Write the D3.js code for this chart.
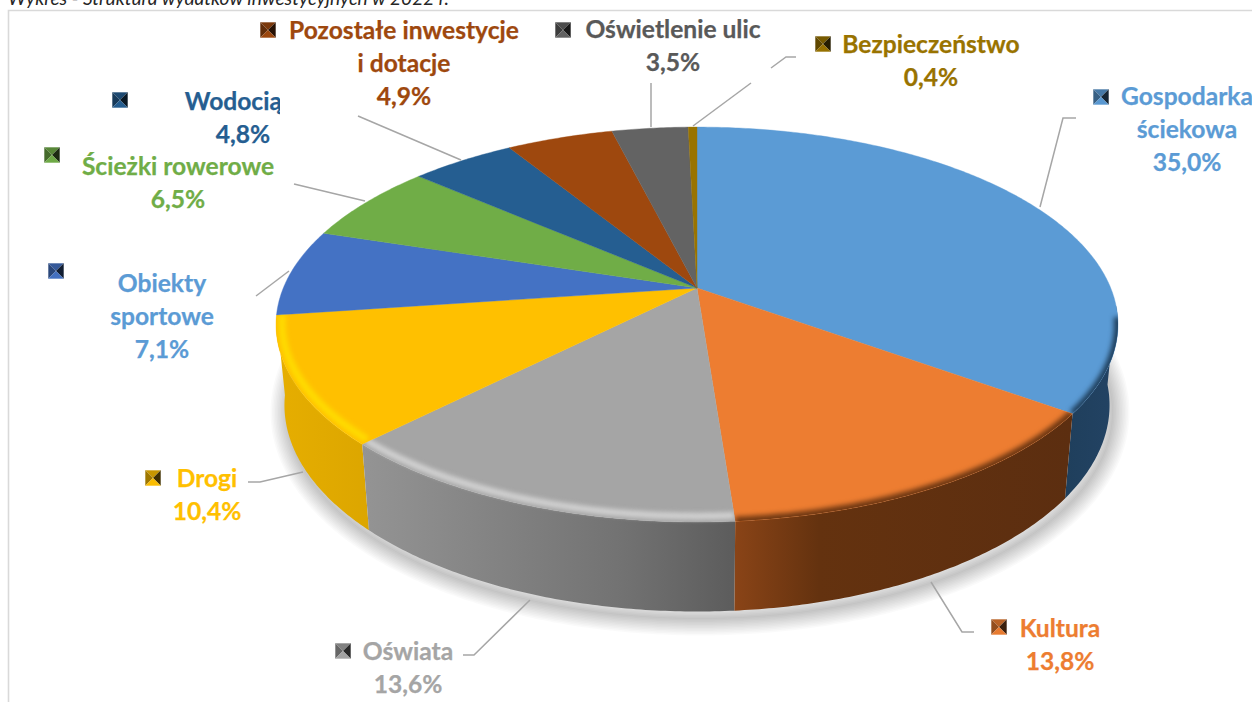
<!DOCTYPE html>
<html lang="pl"><head><meta charset="utf-8">
<script src="https://cdnjs.cloudflare.com/ajax/libs/d3/7.8.5/d3.min.js"></script>
<style>html,body{margin:0;padding:0;background:#fff;overflow:hidden}svg{display:block}
text{font-family:Lato,"Open Sans",sans-serif;font-weight:700;font-size:24.6px}</style></head>
<body><svg id="c" width="1252" height="702"></svg>
<script>
const categories=["Gospodarka ściekowa","Kultura","Oświata","Drogi","Obiekty sportowe","Ścieżki rowerowe","Wodociągi","Pozostałe inwestycje i dotacje","Oświetlenie ulic","Bezpieczeństwo"];
const values=[35.0,13.8,13.6,10.4,7.1,6.5,4.8,4.9,3.5,0.4];
const valueLabels=["35,0%","13,8%","13,6%","10,4%","7,1%","6,5%","4,8%","4,9%","3,5%","0,4%"];
const sliceColors=["#5b9bd5","#ed7d31","#a5a5a5","#ffc000","#4472c4","#70ad47","#255e91","#9e480e","#636363","#997300"];
const textColors=["#5b9bd5","#ed7d31","#a5a5a5","#ffc000","#5b9bd5","#70ad47","#255e91","#9e480e","#595959","#997300"];
const caption="Wykres - Struktura wydatków inwestycyjnych w 2022 r.";

// layout (separate from data)
const labelLines=[["Gospodarka","ściekowa"],["Kultura"],["Oświata"],["Drogi"],["Obiekty","sportowe"],["Ścieżki rowerowe"],["Wodociągi"],["Pozostałe inwestycje","i dotacje"],["Oświetlenie ulic"],["Bezpieczeństwo"]];
const labelPos=[[1187,105],[1060,637],[408,660],[207,487],[162,292],[178,175],[243,110],[404,39],[673,38],[931,53]];
const markerPos=[[1101,97],[999,627],[343,651],[153,478],[56,271],[52,155],[120,100],[268,30],[563,30],[823,44]];
const leaders=[[[1040,207],[1063,118],[1076,118]],[[931,582],[962,632],[974,632]],[[530,600],[474,655],[463,655]],[[303,472],[260,482],[248,482]],[[289,271],[256,296]],[[365,201],[294,184]],[[461,160],[358,116]],[[651,127],[651,83]],[[693,126],[751,83]],[[771,68],[786,57],[796,57]]];
const wallStops={0:[["0%","#1f3f5c"],["100%","#234364"]],1:[["0%","#8a4417"],["25%","#64320f"],["100%","#5c2e10"]],2:[["0%","#949494"],["35%","#838383"],["70%","#727272"],["100%","#5c5c5c"]],3:[["0%","#e6ae00"],["100%","#dca600"]]};
const rimStyle={0:["#1f3f5c",0,8],1:["#6e3712",0,9],2:["#d6d6d6",5,6],3:["#ffdc00",6,7]};

const svg=d3.select("#c"),defs=svg.append("defs");
const cx=697,cy=288,B=413.7,A=190.7,k=0.185;
const project=a=>{const u=Math.sin(a),v=-Math.cos(a),w=1-k*v;return [cx+B*u/w,cy+A*v/w]};
const lower=p=>[cx+.98*(p[0]-cx),1.045*p[1]+66];
const arcPts=(a0,a1)=>{const n=Math.max(2,Math.ceil((a1-a0)/0.01));return d3.range(n+1).map(i=>a0+(a1-a0)*i/n).map(project)};
const line=d3.line();
const arcs=d3.pie().sort(null).value(d=>d)(values);
const TAU=2*Math.PI;

defs.append("filter").attr("id","b1").attr("filterUnits","userSpaceOnUse").attr("x",0).attr("y",0).attr("width",1252).attr("height",702).attr("color-interpolation-filters","sRGB").append("feGaussianBlur").attr("stdDeviation",2.4);

// caption + frame
svg.append("text").attr("x",8).attr("y",5).attr("textLength",441).attr("lengthAdjust","spacingAndGlyphs")
  .style("font-style","italic").style("font-weight",400).style("font-size","19px").attr("fill","#262626").text(caption);
svg.append("path").attr("d","M8.5,702V10.5H1252").attr("fill","none").attr("stroke","#d9d9d9").attr("stroke-width",1.6);

// soft shadow: nested strokes of the lower outline, widest and faintest first
const outer=line(arcPts(0,TAU).map(lower))+"Z";
const shadowG=svg.append("g").attr("transform","translate(3,7)");
d3.range(34,0,-3).forEach(w=>shadowG.append("path").attr("d",outer).attr("fill","none").attr("stroke","#000").attr("stroke-opacity",.02).attr("stroke-width",w));

// walls: ends first, centre last
const wallLim=[Math.PI*95/180,Math.PI*265/180];
const wallPath={};
[0,3,2,1].forEach(i=>{
  const a=arcs[i],a0=Math.max(a.startAngle,wallLim[0]),a1=Math.min(a.endAngle,wallLim[1]);
  const top=arcPts(a0,a1),bot=top.map(lower).reverse();
  const xs=top.concat(bot).map(p=>p[0]);
  const g=defs.append("linearGradient").attr("id","w"+i).attr("gradientUnits","userSpaceOnUse")
    .attr("x1",d3.min(xs)).attr("x2",d3.max(xs)).attr("y1",0).attr("y2",0);
  wallStops[i].forEach(s=>g.append("stop").attr("offset",s[0]).attr("stop-color",s[1]));
  wallPath[i]=line(top.concat(bot))+"Z";
  svg.append("path").attr("d",wallPath[i]).attr("fill",`url(#w${i})`);
});

// top faces
arcs.forEach((a,i)=>{
  const d=line([[cx,cy],...arcPts(a.startAngle,a.endAngle)])+"Z";
  svg.append("path").attr("d",d).attr("fill",sliceColors[i]).attr("stroke",sliceColors[i]).attr("stroke-width",.4);
});
arcs.forEach((a,i)=>{
  if(!rimStyle[i]) return;
  const d=line([[cx,cy],...arcPts(a.startAngle,a.endAngle)])+"Z";
  const id="cl"+i,clip=defs.append("clipPath").attr("id",id);
  clip.append("path").attr("d",d);
  if(i>1) clip.append("path").attr("d",wallPath[i]);
  const [col,off,w]=rimStyle[i];
  const a0=Math.max(a.startAngle,i==0?1.72:0);
  const rim=arcPts(a0,a.endAngle).map(p=>[p[0]+(cx-p[0])*off/420,p[1]+(cy-p[1])*off/200]);
  svg.append("g").attr("clip-path",`url(#${id})`).append("path").attr("d",line(rim)).attr("fill","none").attr("stroke",col).attr("stroke-width",w).attr("filter","url(#b1)");
});

// leaders
svg.selectAll(".l").data(leaders).join("path").attr("d",d=>line(d)).attr("fill","none").attr("stroke","#a6a6a6").attr("stroke-width",1.5);

// clip for the cut-off Wodociągi label
defs.append("clipPath").attr("id","wclip").append("rect").attr("x",0).attr("y",0).attr("width",280).attr("height",702);

// labels
const lh=33;
categories.forEach((c,i)=>{
  const g=svg.append("g").attr("fill",textColors[i]).attr("stroke",textColors[i]).attr("stroke-width",.25).attr("text-anchor","middle");
  if(i==6) g.attr("clip-path","url(#wclip)");
  const [x,y]=labelPos[i];
  labelLines[i].concat(valueLabels[i]).forEach((t,j)=>g.append("text").attr("x",x).attr("y",y+j*lh).text(t));
  // marker
  const [mx,my]=markerPos[i],s=8,col=d3.rgb(sliceColors[i]);
  const sh=f=>d3.rgb(col.r*f,col.g*f,col.b*f).formatHex();
  const m=svg.append("g").attr("transform",`translate(${mx},${my})`);
  const tris=[[[[-s,-s],[s,-s],[0,0]],sh(.78)],[[[-s,-s],[-s,s],[0,0]],sh(.62)],[[[s,-s],[s,s],[0,0]],sh(.25)],[[[-s,s],[s,s],[0,0]],sh(.98)]];
  tris.forEach(([p,f])=>m.append("path").attr("d",line(p)+"Z").attr("fill",f));
  m.append("rect").attr("x",-s+.5).attr("y",-s+.5).attr("width",2*s-1).attr("height",2*s-1).attr("fill","none").attr("stroke","#fff").attr("stroke-opacity",.3);
});
</script></body></html>
